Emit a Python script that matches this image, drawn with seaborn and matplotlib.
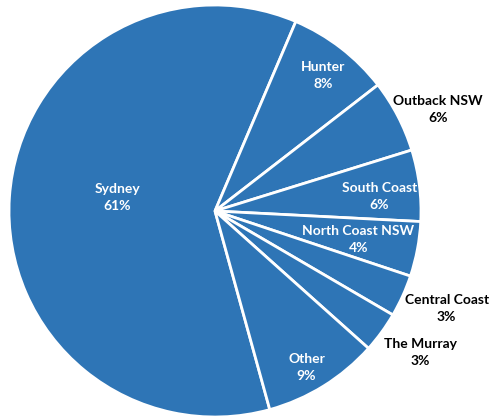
import numpy as np
import matplotlib
matplotlib.use("Agg")
import matplotlib.pyplot as plt
import seaborn as sns

regions = ["Sydney", "Hunter", "Outback NSW", "South Coast", "North Coast NSW",
           "Central Coast", "The Murray", "Other"]
shares = [60.7, 8.1, 5.7, 5.6, 4.3, 3.3, 3.2, 9.1]

# label styling (radial placement factor, colour)
label_r = [0.48, 0.84, 1.19, 0.80, 0.71, 1.22, 1.21, 0.88]
label_dang = [-4.0, -1.0, -3.0, -2.0, -0.5, 1.5, 1.5, -1.5]
label_col = ["white", "white", "black", "white", "white", "black", "black", "white"]

sns.set_theme(style="white")
plt.rcParams["font.family"] = ["Lato", "DejaVu Sans"]

fig = plt.figure(figsize=(4.9, 4.18), dpi=100)
W, H = 490, 418
cx, cy, R = 215, 211, 206
ax = fig.add_axes([(cx - R) / W, (H - cy - R) / H, 2 * R / W, 2 * R / H])

# Sydney first; Hunter begins ~23 deg clockwise from 12 o'clock
start_clock = 23.1 - shares[0] / 100 * 360
wedges, _ = ax.pie(shares, startangle=90 - start_clock, counterclock=False,
                   colors=["#2E75B6"] * len(shares), radius=1,
                   wedgeprops=dict(edgecolor="white", linewidth=2))
ax.set_xlim(-1, 1)
ax.set_ylim(-1, 1)
ax.set_aspect("equal")
ax.axis("off")

for w, name, v, r, da, c in zip(wedges, regions, shares, label_r, label_dang, label_col):
    mid = np.deg2rad((w.theta1 + w.theta2) / 2 + da)
    x, y = r * np.cos(mid), r * np.sin(mid)
    ax.text(x, y, f"{name}\n{v:.0f}%", ha="center", va="center", color=c,
            fontsize=10, fontweight="bold", linespacing=1.5)

fig.savefig("out.png", dpi=100)
